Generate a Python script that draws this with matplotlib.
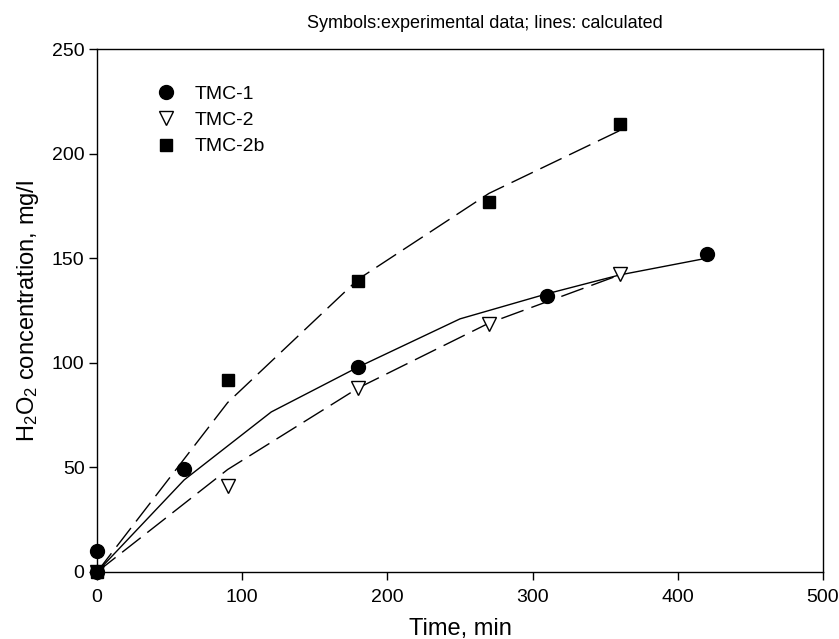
import matplotlib
matplotlib.use('Agg')
import matplotlib.pyplot as plt
from matplotlib.lines import Line2D

plt.rcParams['font.family'] = ['Liberation Sans', 'DejaVu Sans']
plt.rcParams['mathtext.fontset'] = 'custom'
plt.rcParams['mathtext.rm'] = 'Liberation Sans'
plt.rcParams['mathtext.it'] = 'Liberation Sans:italic'
plt.rcParams['mathtext.default'] = 'regular'

# experimental data
t1 = [0, 0, 60, 180, 310, 420]
c1 = [0, 10, 49, 98, 132, 152]
t2 = [0, 90, 180, 270, 360]
c2 = [0, 41, 88, 118.5, 142.5]
t2b = [0, 90, 180, 270, 360]
c2b = [0, 92, 139, 177, 214]

# calculated curves
t1_calc = [0, 60, 120, 180, 250, 310, 360, 420]
c1_calc = [0, 44, 76.5, 98, 121, 133, 142, 150]
t2_calc = [0, 90, 180, 270, 360]
c2_calc = [0, 49, 88, 119, 142]
t2b_calc = [0, 90, 180, 270, 360]
c2b_calc = [0, 81, 140, 181, 211]

fig = plt.figure(figsize=(8.39, 6.39), dpi=100)
ax = fig.add_axes([97/839, 67/639, 726/839, 523/639])

dash = (17, 6)
ax.plot(t1_calc, c1_calc, color='black', lw=1.0, zorder=2)
ax.plot(t2_calc, c2_calc, color='black', lw=1.0, dashes=dash, zorder=2)
ax.plot(t2b_calc, c2b_calc, color='black', lw=1.0, dashes=dash, zorder=2)

ax.plot(t1, c1, 'o', color='black', ms=10, ls='none', clip_on=False, zorder=3)
ax.plot(t2, c2, 'v', mfc='white', mec='black', mew=1.0, ms=9.5, ls='none', clip_on=False, zorder=3)
ax.plot(t2b, c2b, 's', color='black', ms=9, ls='none', clip_on=False, zorder=3)

ax.set_xlim(0, 500)
ax.set_ylim(0, 250)
ax.set_xticks(range(0, 501, 100))
ax.set_yticks(range(0, 251, 50))
ax.tick_params(direction='out', length=5.5, width=1, labelsize=14, top=False, right=False)
ax.tick_params(axis='x', pad=6.5)
for s in ax.spines.values():
    s.set_linewidth(1.0)

ax.set_xlabel('Time, min', fontsize=17, labelpad=9)
ax.set_ylabel('H$_2$O$_2$ concentration, mg/l', fontsize=17, labelpad=8)

fig.text(485/839, 1 - 23/639, 'Symbols:experimental data; lines: calculated',
         fontsize=13, ha='center', va='center')

handles = [
    Line2D([], [], marker='o', color='black', ms=10, ls='none'),
    Line2D([], [], marker='v', mfc='white', mec='black', mew=1.0, ms=9.5, ls='none'),
    Line2D([], [], marker='s', color='black', ms=9, ls='none'),
]
ax.legend(handles, ['TMC-1', 'TMC-2', 'TMC-2b'], loc='upper left',
          bbox_to_anchor=(156/839, 1 - 85/639), bbox_transform=fig.transFigure,
          frameon=False, fontsize=14, handlelength=1.0, handletextpad=1.0,
          borderpad=0, borderaxespad=0, labelspacing=0.45)

fig.savefig('out.png', dpi=100)
